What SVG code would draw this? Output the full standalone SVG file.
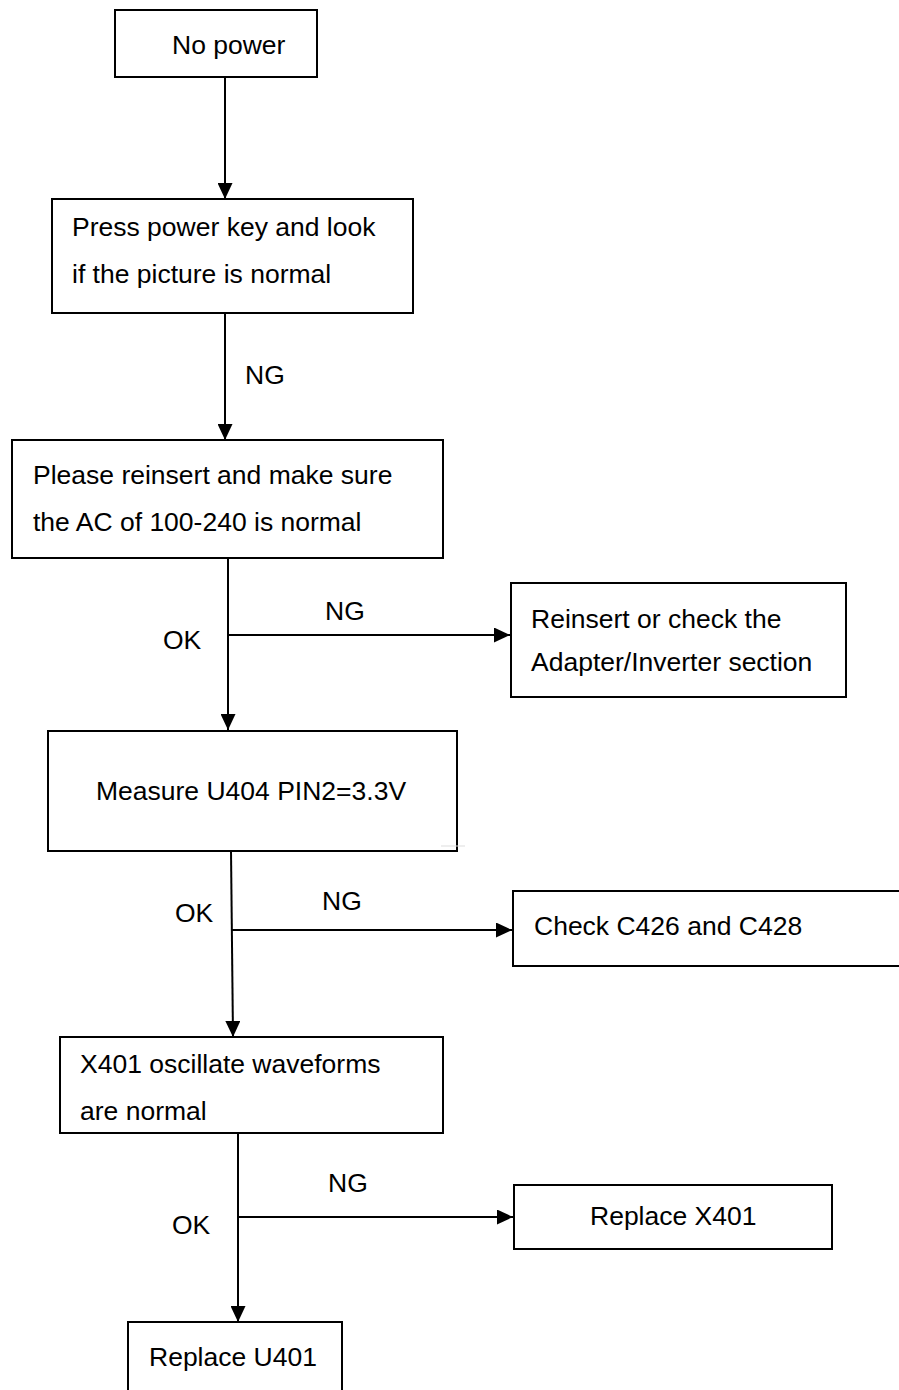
<svg xmlns="http://www.w3.org/2000/svg" width="899" height="1390" viewBox="0 0 899 1390">
<style>
.box{fill:#fff;stroke:#000;stroke-width:2}
.t{font-family:"Liberation Sans",Arial,sans-serif;font-size:26.5px;fill:#000}
.ln{stroke:#000;stroke-width:2;fill:none}
</style>
<defs>
<marker id="ah" markerWidth="16" markerHeight="15" refX="16" refY="7.5" orient="auto" markerUnits="userSpaceOnUse">
<path d="M0,0 L16,7.5 L0,15 Z" fill="#000"/>
</marker>
</defs>
<rect width="899" height="1390" fill="#fff"/>
<g id="connectors">
<line class="ln" x1="225" y1="77" x2="225" y2="199" marker-end="url(#ah)"/>
<line class="ln" x1="225" y1="313" x2="225" y2="440" marker-end="url(#ah)"/>
<line class="ln" x1="228" y1="558" x2="228" y2="730" marker-end="url(#ah)"/>
<line class="ln" x1="228" y1="635" x2="510" y2="635" marker-end="url(#ah)"/>
<line class="ln" x1="231" y1="851" x2="233" y2="1037" marker-end="url(#ah)"/>
<line class="ln" x1="232" y1="930" x2="512" y2="930" marker-end="url(#ah)"/>
<line class="ln" x1="238" y1="1133" x2="238" y2="1322" marker-end="url(#ah)"/>
<line class="ln" x1="238" y1="1217" x2="513" y2="1217" marker-end="url(#ah)"/>
<text class="t" x="245" y="384">NG</text>
<text class="t" x="325" y="620">NG</text>
<text class="t" x="163" y="649">OK</text>
<text class="t" x="322" y="910">NG</text>
<text class="t" x="175" y="922">OK</text>
<text class="t" x="328" y="1192">NG</text>
<text class="t" x="172" y="1234">OK</text>
</g>
<g id="n1"><rect class="box" x="115" y="10" width="202" height="67"/><text class="t" x="172" y="54">No power</text></g>
<g id="n2"><rect class="box" x="52" y="199" width="361" height="114"/><text class="t" x="72" y="236">Press power key and look</text><text class="t" x="72" y="283">if the picture is normal</text></g>
<g id="n3"><rect class="box" x="12" y="440" width="431" height="118"/><text class="t" x="33" y="484">Please reinsert and make sure</text><text class="t" x="33" y="531">the AC of 100-240 is normal</text></g>
<g id="n4"><rect class="box" x="511" y="583" width="335" height="114"/><text class="t" x="531" y="628">Reinsert or check the</text><text class="t" x="531" y="671">Adapter/Inverter section</text></g>
<g id="n5"><rect class="box" x="48" y="731" width="409" height="120"/><text class="t" x="96" y="800">Measure U404 PIN2=3.3V</text></g>
<line x1="441" y1="846" x2="465" y2="846" stroke="#ddd" stroke-width="1"/>
<g id="n6"><rect class="box" x="513" y="891" width="400" height="75"/><text class="t" x="534" y="935">Check C426 and C428</text></g>
<g id="n7"><rect class="box" x="60" y="1037" width="383" height="96"/><text class="t" x="80" y="1073">X401 oscillate waveforms</text><text class="t" x="80" y="1120">are normal</text></g>
<g id="n8"><rect class="box" x="514" y="1185" width="318" height="64"/><text class="t" x="590" y="1225">Replace X401</text></g>
<g id="n9"><rect class="box" x="128" y="1322" width="214" height="80"/><text class="t" x="149" y="1366">Replace U401</text></g>
</svg>
